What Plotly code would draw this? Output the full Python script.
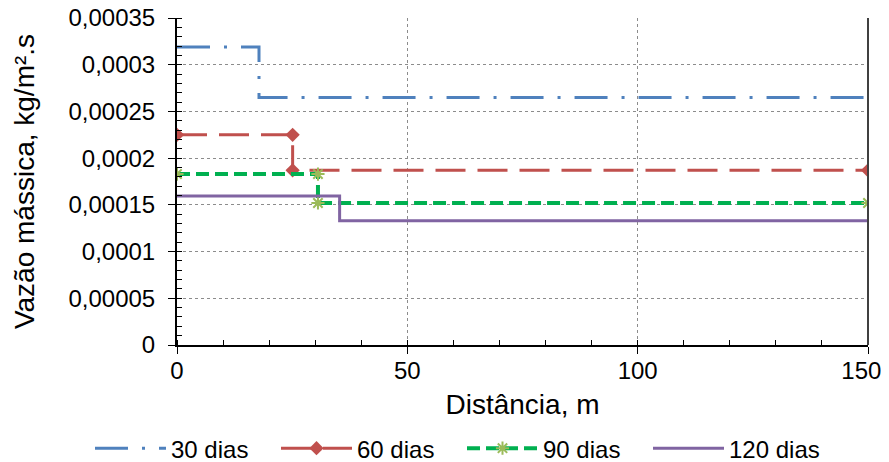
import plotly.graph_objects as go

# ---- data ----
series_names = ["30 dias", "60 dias", "90 dias", "120 dias"]
x_30 = [0, 17.8, 17.8, 150]
y_30 = [0.000319, 0.000319, 0.000265, 0.000265]
x_60 = [0, 25.1, 25.1, 150]
y_60 = [0.000225, 0.000225, 0.000187, 0.000187]
x_90 = [0, 30.6, 30.6, 150]
y_90 = [0.000183, 0.000183, 0.000152, 0.000152]
x_120 = [0, 35.3, 35.3, 150]
y_120 = [0.0001595, 0.0001595, 0.000133, 0.000133]

y_tickvals = [0, 0.00005, 0.0001, 0.00015, 0.0002, 0.00025, 0.0003, 0.00035]
y_ticktext = ["0", "0,00005", "0,0001", "0,00015", "0,0002", "0,00025", "0,0003", "0,00035"]
x_tickvals = [0, 50, 100, 150]
x_ticktext = ["0", "50", "100", "150\u00a0\u00a0"]  # trailing spaces keep the last label inside the window

FONT = "Liberation Sans, Arial, sans-serif"

fig = go.Figure()
fig.add_trace(go.Scatter(
    x=x_30, y=y_30, name=series_names[0], mode="lines",
    line=dict(color="#4F81BD", width=3, dash="33px,14px,3px,14px"),
))
fig.add_trace(go.Scatter(
    x=x_60, y=y_60, name=series_names[1], mode="lines+markers",
    line=dict(color="#C0504D", width=3, dash="30px,12px"),
    marker=dict(symbol="diamond", size=11, color="#C0504D"),
))
fig.add_trace(go.Scatter(
    x=x_90, y=y_90, name=series_names[2], mode="lines+markers",
    line=dict(color="#00B050", width=4, dash="13px,6px"),
    marker=dict(symbol="asterisk-open", size=11, color="#9BBB59",
                line=dict(width=2, color="#9BBB59")),
))
fig.add_trace(go.Scatter(
    x=x_120, y=y_120, name=series_names[3], mode="lines",
    line=dict(color="#8064A2", width=3),
))

# right border of plot area
fig.add_shape(type="line", xref="paper", yref="paper", x0=1, x1=1, y0=0, y1=1,
              line=dict(color="#404040", width=2))

# the page body adds an 8px offset; margins compensate for it
fig.update_layout(
    width=889, height=462,
    margin=dict(l=169, r=29, t=10, b=125, autoexpand=False),
    paper_bgcolor="white", plot_bgcolor="white",
    font=dict(family=FONT, size=24, color="black"),
    showlegend=True,
    legend=dict(
        orientation="h", xref="paper", x=-0.1259, xanchor="left",
        yref="paper", y=-0.248, yanchor="top",
        itemwidth=71, entrywidth=100, entrywidthmode="pixels",
        font=dict(family=FONT, size=24, color="black"),
        bgcolor="rgba(0,0,0,0)",
    ),
    xaxis=dict(
        range=[0, 150], tickvals=x_tickvals, ticktext=x_ticktext,
        showline=True, linecolor="black", linewidth=2,
        ticks="outside", ticklen=7, tickcolor="black", tickwidth=1,
        showgrid=True, gridcolor="#8C8C8C", gridwidth=1, griddash="3px,3px",
        zeroline=False, ticklabeloverflow="allow",
        minor=dict(ticks="inside", ticklen=5, dtick=10, tick0=0, tickcolor="black", showgrid=False),
        title=dict(text="Distância, m", font=dict(family=FONT, size=28), standoff=12),
        tickfont=dict(family=FONT, size=24),
        ticklabelstandoff=-4,
    ),
    yaxis=dict(
        range=[0, 0.00035], tickvals=y_tickvals, ticktext=y_ticktext,
        showline=True, linecolor="black", linewidth=2,
        ticks="outside", ticklen=7, tickcolor="black", tickwidth=1,
        showgrid=True, gridcolor="#8C8C8C", gridwidth=1, griddash="3px,3px",
        zeroline=False, ticklabeloverflow="allow",
        minor=dict(ticks="inside", ticklen=5, dtick=0.00001, tick0=0, tickcolor="black", showgrid=False),
        title=dict(text="Vazão mássica, kg/m².s", font=dict(family=FONT, size=28), standoff=26),
        tickfont=dict(family=FONT, size=24),
        ticklabelstandoff=8,
    ),
)

fig.write_html("out.html")
